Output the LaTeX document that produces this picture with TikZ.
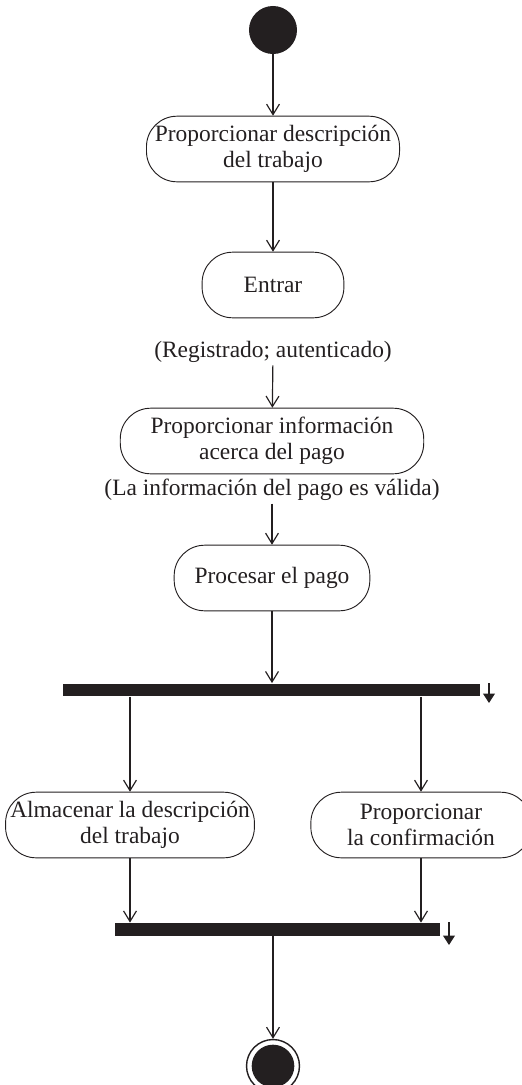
\documentclass[tikz,border=0pt]{standalone}
\usepackage{fontspec}
\setmainfont{Liberation Serif}
\usetikzlibrary{arrows.meta,positioning}

\definecolor{tinta}{HTML}{231F20}
\tikzset{
    actividad/.style={draw=tinta, rounded corners=13pt, align=center, minimum height=28pt, inner sep=2pt, text=tinta, font=\fontsize{10}{11.2}\selectfont},
    guarda/.style={text=tinta, inner sep=1pt, font=\fontsize{10}{11.2}\selectfont},
    barra/.style={fill=tinta, minimum height=5.5pt, inner sep=0pt},
    flujo/.style={draw=tinta, -{Straight Barb[length=4.5pt,width=5.5pt]}, line width=0.5pt},
    salida/.style={draw=tinta, -{Triangle[length=4pt,width=5pt]}, line width=0.5pt},
}

\begin{document}
\begin{tikzpicture}[x=0.015cm, y=-0.015cm]
    \useasboundingbox (0,0) rectangle (521,1085);
    \node[circle, fill=tinta, minimum size=20.5pt, inner sep=0pt] (inicio) at (273,30) {};
    \node[actividad, minimum width=108pt] (descripcion) at (273,149) {Proporcionar descripción\\del trabajo};
    \node[actividad, minimum width=60.5pt] (entrar) at (273,285) {Entrar};
    \node[guarda] (registrado) at (273,352) {(Registrado; autenticado)};
    \node[actividad, minimum width=129.5pt] (infopago) at (272,441) {Proporcionar información\\acerca del pago};
    \node[guarda] (valida) at (272,490) {(La información del pago es válida)};
    \node[actividad, minimum width=83.5pt] (procesar) at (272,578) {Procesar el pago};
    \node[barra, minimum width=178pt] (fork) at (271.5,690) {};
    \node[actividad, minimum width=100.5pt] (almacenar) at (130,825) {Almacenar la descripción\\del trabajo};
    \node[actividad, minimum width=94pt] (confirmar) at (421,825) {Proporcionar\\la confirmación};
    \node[barra, minimum width=138.5pt] (join) at (277.5,929.5) {};
    \node[circle, draw=tinta, line width=0.6pt, minimum size=22.6pt, inner sep=0pt] (fin) at (273,1066) {};
    \node[circle, fill=tinta, minimum size=18.2pt, inner sep=0pt] at (fin) {};

    \coordinate (forkA) at (489,683);
    \coordinate (forkB) at (489,703);
    \coordinate (joinA) at (449,922);
    \coordinate (joinB) at (449,945);

    \draw[flujo] (inicio) -- (descripcion);
    \draw[flujo] (descripcion) -- (entrar);
    \draw[flujo] (registrado) -- (infopago);
    \draw[flujo] (valida.south -| infopago) -- (procesar);
    \draw[flujo] (procesar.south) -- (procesar.south |- fork.north);
    \draw[flujo] (almacenar |- fork.south) -- (almacenar);
    \draw[flujo] (confirmar |- fork.south) -- (confirmar);
    \draw[flujo] (almacenar) -- (almacenar |- join.north);
    \draw[flujo] (confirmar) -- (confirmar |- join.north);
    \draw[flujo] (fin |- join.south) -- (fin);
    \draw[salida] (forkA) -- (forkB);
    \draw[salida] (joinA) -- (joinB);
\end{tikzpicture}
\end{document}
